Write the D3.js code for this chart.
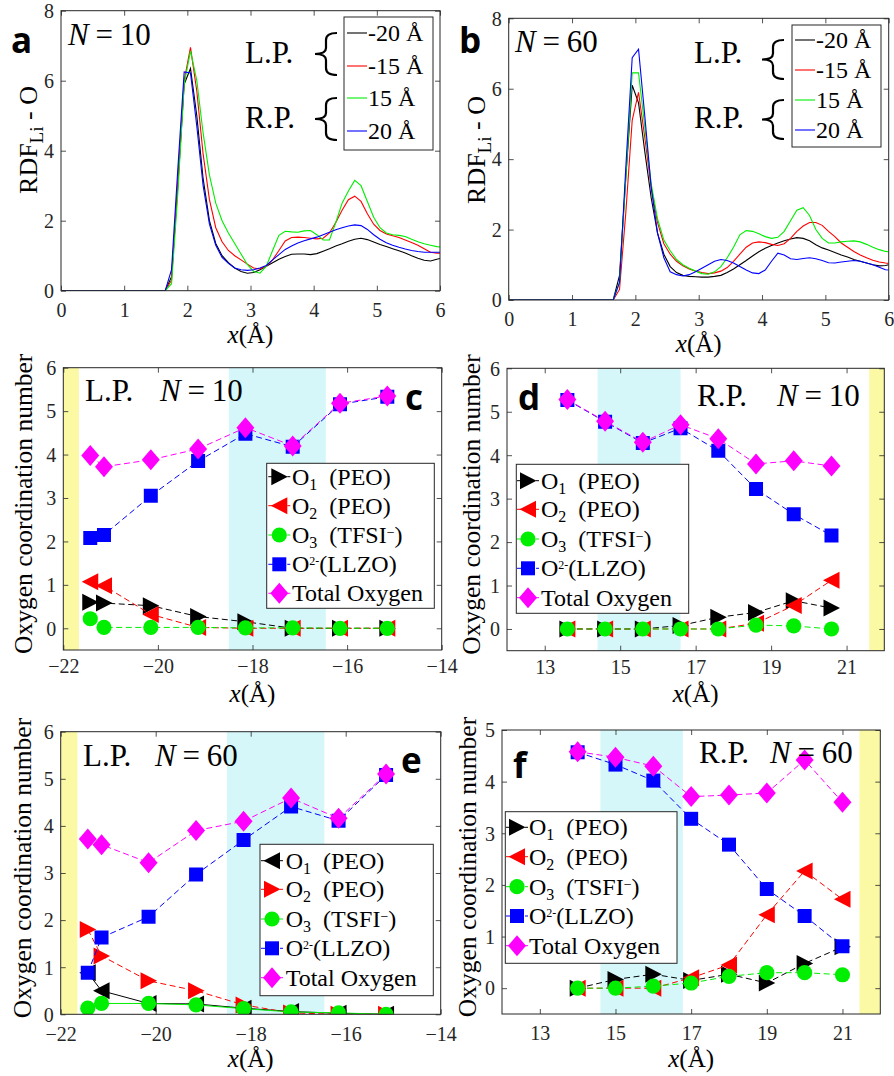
<!DOCTYPE html>
<html><head><meta charset="utf-8">
<script src="https://cdn.jsdelivr.net/npm/d3@7"></script>
<style>
body{margin:0;background:#fff}
svg{display:block}
svg text{font-family:"Liberation Serif","DejaVu Serif",serif;fill:#000}
svg .tick text{fill:#262626;font-family:"Liberation Serif","DejaVu Serif",serif}
svg text.lbl{font-family:"Open Sans","Liberation Sans",sans-serif;font-weight:bold}
</style>
</head><body>
<svg id="fig" width="894" height="1076" font-family="Liberation Serif"></svg>
<script>
// ---------- RDF Li-O (panels a, b) ----------
const rdfX = [0,1.65,1.75,1.85,1.95,2.05,2.15,2.25,2.35,2.45,2.55,2.65,2.75,2.85,2.95,3.05,3.15,3.25,3.35,3.45,3.55,3.65,3.75,3.85,3.95,4.05,4.15,4.25,4.35,4.45,4.55,4.65,4.75,4.85,4.95,5.05,5.15,5.25,5.35,5.45,5.55,5.65,5.75,5.85,5.95,6.0];
const rdfLegend = ["-20 Å","-15 Å","15 Å","20 Å"];
const rdfColors = ["#000000","#ff0000","#00ee00","#0000ff"];

const rdfN10m20 = [0,0,0.4,3.0,5.9,6.35,5.0,3.2,2.0,1.35,1.0,0.8,0.65,0.55,0.5,0.52,0.6,0.7,0.8,0.9,0.98,1.04,1.05,1.05,1.03,1.06,1.13,1.2,1.28,1.34,1.41,1.47,1.5,1.46,1.39,1.32,1.26,1.2,1.14,1.08,1.0,0.93,0.87,0.85,0.9,0.92];
const rdfN10m15 = [0,0,0.3,3.2,6.0,6.95,5.7,3.9,2.6,1.8,1.4,1.15,1.0,0.88,0.76,0.65,0.62,0.7,0.88,1.15,1.42,1.52,1.53,1.52,1.5,1.48,1.5,1.65,1.95,2.3,2.6,2.7,2.55,2.2,1.9,1.72,1.62,1.57,1.52,1.45,1.38,1.3,1.2,1.1,1.07,1.07];
const rdfN10p15 = [0,0,0.2,2.8,5.9,6.85,6.0,4.5,3.3,2.5,2.0,1.65,1.35,1.05,0.75,0.55,0.5,0.7,1.15,1.58,1.7,1.68,1.67,1.71,1.72,1.6,1.45,1.45,1.95,2.5,2.85,3.15,3.0,2.55,2.1,1.8,1.65,1.6,1.58,1.55,1.47,1.4,1.34,1.3,1.26,1.25];
const rdfN10p20 = [0,0,0.6,3.5,6.25,6.22,4.7,3.0,1.9,1.3,0.95,0.78,0.65,0.6,0.58,0.6,0.65,0.72,0.88,1.03,1.18,1.28,1.36,1.43,1.48,1.53,1.6,1.67,1.74,1.8,1.85,1.88,1.86,1.75,1.6,1.47,1.37,1.3,1.24,1.19,1.15,1.12,1.1,1.1,1.1,1.1];

const rdfN60m20 = [0,0,0.7,3.5,6.1,5.6,4.2,2.9,1.9,1.3,0.95,0.78,0.7,0.67,0.66,0.65,0.65,0.67,0.7,0.78,0.88,1.0,1.12,1.25,1.37,1.47,1.55,1.62,1.68,1.73,1.77,1.75,1.68,1.57,1.48,1.42,1.35,1.28,1.22,1.15,1.1,1.05,1.0,0.97,0.98,1.0];
const rdfN60m15 = [0,0,0.3,2.5,5.1,5.9,4.6,3.2,2.2,1.6,1.3,1.1,0.97,0.88,0.82,0.78,0.75,0.77,0.82,0.92,1.1,1.3,1.5,1.62,1.65,1.63,1.58,1.55,1.6,1.75,1.95,2.1,2.2,2.2,2.12,1.95,1.8,1.62,1.5,1.38,1.28,1.2,1.13,1.08,1.05,1.04];
const rdfN60p15 = [0,0,0.5,3.5,6.45,6.45,4.9,3.3,2.3,1.7,1.4,1.15,1.0,0.9,0.82,0.75,0.73,0.8,0.95,1.2,1.5,1.85,1.97,1.95,1.88,1.8,1.75,1.78,1.95,2.25,2.55,2.62,2.4,2.0,1.75,1.62,1.62,1.65,1.67,1.68,1.65,1.58,1.5,1.43,1.38,1.37];
const rdfN60p20 = [0,0,0.5,3.8,6.88,7.12,5.2,3.2,1.9,1.2,0.8,0.72,0.68,0.72,0.8,0.9,1.0,1.1,1.15,1.12,1.05,0.95,0.85,0.77,0.75,0.85,1.1,1.33,1.28,1.17,1.15,1.18,1.2,1.17,1.12,1.06,1.05,1.08,1.1,1.12,1.1,1.05,1.0,0.93,0.86,0.85];

const rdfTicksX = [0,1,2,3,4,5,6];
const rdfTicksY = [0,2,4,6,8];

// ---------- Oxygen coordination number (panels c-f) ----------
const posLP = [-21.43,-21.14,-20.15,-19.15,-18.15,-17.15,-16.15,-15.15];
const posRP10 = [13.6,14.6,15.6,16.6,17.6,18.6,19.6,20.6];
const posRP60 = [14,15,16,17,18,19,20,21];

const cO1 = [0.6,0.58,0.52,0.27,0.15,0,0,0];
const cO2 = [1.07,0.98,0.32,0.02,0,0,0,0];
const cO3 = [0.22,0.02,0.02,0.02,0.01,0.01,0,0];
const cLLZO = [2.08,2.15,3.05,3.85,4.48,4.18,5.16,5.33];
const cTotal = [3.98,3.72,3.88,4.13,4.62,4.2,5.18,5.35];

const dO1 = [0,0,0,0.08,0.27,0.38,0.65,0.48];
const dO2 = [0,0,0,0,0,0.13,0.54,1.12];
const dO3 = [0,0,0,0,0,0.09,0.07,0];
const dLLZO = [5.27,4.77,4.28,4.62,4.1,3.22,2.64,2.15];
const dTotal = [5.28,4.78,4.3,4.7,4.38,3.8,3.87,3.75];

const eO1 = [0.88,0.5,0.23,0.22,0.13,0.06,0.02,0];
const eO2 = [1.8,1.24,0.71,0.5,0.2,0.03,0,0];
const eO3 = [0.13,0.23,0.23,0.2,0.12,0.05,0.03,0];
const eLLZO = [0.88,1.63,2.07,2.97,3.7,4.41,4.11,5.08];
const eTotal = [3.72,3.6,3.22,3.9,4.1,4.59,4.16,5.1];

const fO1 = [0,0.17,0.27,0.15,0.27,0.1,0.48,0.8];
const fO2 = [0,0,0,0.2,0.45,1.42,2.27,1.72];
const fO3 = [0,0,0.04,0.1,0.23,0.3,0.3,0.26];
const fLLZO = [4.57,4.33,4.02,3.28,2.78,1.92,1.4,0.81];
const fTotal = [4.58,4.47,4.3,3.71,3.74,3.78,4.42,3.6];

const ticksLP = [-22,-20,-18,-16,-14];
const ticksRP = [13,15,17,19,21];
const ticksCN6 = [0,1,2,3,4,5,6];
const ticksCN5 = [0,1,2,3,4,5];

const COL = {k:"#000000", r:"#ff0000", g:"#00ee00", b:"#0000ff", m:"#ff00ff"};
const YELLOW = "#fbf9a4", CYAN = "#d5f7f9", AX = "#262626";
const SERIF = '"Liberation Serif","DejaVu Serif",serif';

const svg = d3.select("#fig");
let clipId = 0;

// ---------- helpers ----------
function txt(sel, x, y, size) {
  return sel.append("text").attr("x", x).attr("y", y)
    .style("font-family", SERIF).style("font-size", size + "px");
}

function makeAxes(p) {
  const x = d3.scaleLinear().domain(p.xd).range([p.L, p.R]);
  const y = d3.scaleLinear().domain(p.yd).range([p.B, p.T]);
  const g = svg.append("g");
  const id = "clip" + (clipId++);
  svg.append("clipPath").attr("id", id).append("rect")
    .attr("x", p.L).attr("y", p.T).attr("width", p.R - p.L).attr("height", p.B - p.T);
  const plot = g.append("g").attr("clip-path", `url(#${id})`);
  return {x, y, g, plot};
}

function drawFrame(ax, p) {
  const {x, y, g} = ax;
  const fs = 20;
  const bot = g.append("g").attr("transform", `translate(0,${p.B})`)
    .call(d3.axisBottom(x).tickValues(p.xt).tickSize(-5).tickFormat(d3.format("d")));
  bot.selectAll("text").attr("y", p.xlab).attr("dy", null)
    .style("font-size", fs + "px").style("font-family", SERIF);
  g.append("g").attr("transform", `translate(0,${p.T})`)
    .call(d3.axisTop(x).tickValues(p.xt).tickSize(-5).tickFormat(""));
  const left = g.append("g").attr("transform", `translate(${p.L},0)`)
    .call(d3.axisLeft(y).tickValues(p.yt).tickSize(-5).tickFormat(d3.format("d")));
  left.selectAll("text").attr("x", -7).attr("dy", "0.34em")
    .style("font-size", fs + "px").style("font-family", SERIF);
  g.append("g").attr("transform", `translate(${p.R},0)`)
    .call(d3.axisRight(y).tickValues(p.yt).tickSize(-5).tickFormat(""));
  g.selectAll(".domain").remove();
  g.selectAll(".tick line").attr("stroke", AX).attr("stroke-width", 0.8);
  g.append("rect").attr("x", p.L).attr("y", p.T).attr("width", p.R - p.L).attr("height", p.B - p.T)
    .attr("fill", "none").attr("stroke", AX).attr("stroke-width", 1);
  // x-axis title  x(Å)
  const xt = txt(g, (p.L + p.R) / 2, p.xtitle, 25).attr("text-anchor", "middle");
  xt.append("tspan").style("font-style", "italic").text("x");
  xt.append("tspan").text("(Å)");
}

function brace(g, x, yTop, yBot) {
  const m = (yTop + yBot) / 2, w = 22, cx = x + w * 0.5;
  const d = `M${x + w},${yTop} Q${cx},${yTop} ${cx},${yTop + 7} L${cx},${m - 6} Q${cx},${m} ${x},${m}` +
            ` Q${cx},${m} ${cx},${m + 6} L${cx},${yBot - 7} Q${cx},${yBot} ${x + w},${yBot}`;
  g.append("path").attr("d", d).attr("fill", "none").attr("stroke", "#000").attr("stroke-width", 2.2);
}

function nEquals(g, x, y, val, fs) {
  const t = txt(g, x, y, fs);
  t.append("tspan").style("font-style", "italic").text("N");
  t.append("tspan").attr("dx", fs * 0.22).text("=");
  t.append("tspan").attr("dx", fs * 0.22).text(val);
}

function rdfPanel(p, series, nval) {
  const ax = makeAxes(p);
  const line = d3.line().x((d, i) => ax.x(rdfX[i])).y(d => ax.y(d));
  series.forEach((s, i) => {
    ax.plot.append("path").datum(s).attr("d", line).attr("fill", "none")
      .attr("stroke", rdfColors[i]).attr("stroke-width", 1.1);
  });
  drawFrame(ax, p);
  const g = ax.g;
  // legend
  const lg = p.leg;
  g.append("rect").attr("x", lg.x0).attr("y", lg.y0).attr("width", lg.x1 - lg.x0).attr("height", lg.y1 - lg.y0)
    .attr("fill", "#fff").attr("stroke", AX).attr("stroke-width", 1);
  rdfLegend.forEach((name, i) => {
    const yy = lg.rows[i];
    g.append("line").attr("x1", lg.lx0).attr("x2", lg.lx1).attr("y1", yy).attr("y2", yy)
      .attr("stroke", rdfColors[i]).attr("stroke-width", 1.1);
    txt(g, lg.lx1 + 1, yy + 8, 24).text(name);
  });
  txt(g, p.lpx, 63, 31).text("L.P.");
  txt(g, p.lpx, 128, 31).text("R.P.");
  brace(g, p.brx, lg.rows[0], lg.rows[1] + 9);
  brace(g, p.brx, lg.rows[2] + 0, lg.rows[3] + 9);
  nEquals(g, p.nx, p.ny, nval, 31);
  g.append("text").attr("class", "lbl").attr("x", p.lx).attr("y", p.ly).style("font-size", "35px").text(p.letter);
  // y title RDF_{Li} - O
  const yt = g.append("text").attr("transform", `translate(${p.ytx},${p.yty}) rotate(-90)`)
    .attr("text-anchor", "middle").style("font-family", SERIF).style("font-size", "26px");
  yt.append("tspan").text("RDF");
  yt.append("tspan").attr("dy", 6).style("font-size", "19px").text("Li");
  yt.append("tspan").attr("dy", -6).text(" - O");
}

function markerPath(shape) {
  switch (shape) {
    case "tr": return "M-8,-8.5L8.5,0L-8,8.5Z";
    case "tl": return "M8,-8.5L-8.5,0L8,8.5Z";
    case "sq": return "M-7,-7L7,-7L7,7L-7,7Z";
    case "di": return "M0,-10.5L9,0L0,10.5L-9,0Z";
    default: return d3.symbol(d3.symbolCircle, Math.PI * 7.6 * 7.6)();
  }
}

function cnPanel(p, xs, series) {
  const ax = makeAxes(p);
  p.bands.forEach(b => {
    ax.plot.append("rect").attr("x", ax.x(b[0])).attr("width", ax.x(b[1]) - ax.x(b[0]))
      .attr("y", p.T).attr("height", p.B - p.T).attr("fill", b[2]);
  });
  const line = d3.line().x((d, i) => ax.x(xs[i])).y(d => ax.y(d));
  series.forEach(s => {
    ax.plot.append("path").datum(s.v).attr("d", line).attr("fill", "none").attr("stroke", s.c)
      .attr("stroke-width", 1).attr("stroke-dasharray", s.solid ? null : "6,3.5");
    ax.plot.selectAll(null).data(s.v).join("path")
      .attr("transform", (d, i) => `translate(${ax.x(xs[i])},${ax.y(d)})`)
      .attr("d", markerPath(s.m)).attr("fill", s.c);
  });
  drawFrame(ax, p);
  const g = ax.g, lg = p.leg;
  g.append("rect").attr("x", lg.x0).attr("y", lg.y0).attr("width", lg.x1 - lg.x0).attr("height", lg.y1 - lg.y0)
    .attr("fill", "#fff").attr("stroke", AX).attr("stroke-width", 1);
  series.forEach((s, i) => {
    const yy = lg.rows[i];
    g.append("line").attr("x1", lg.mx - 11).attr("x2", lg.mx + 11).attr("y1", yy).attr("y2", yy)
      .attr("stroke", s.c).attr("stroke-width", 1).attr("stroke-dasharray", s.solid ? null : "6,3.5");
    g.append("path").attr("transform", `translate(${lg.mx},${yy})`).attr("d", markerPath(s.m)).attr("fill", s.c);
    s.label(txt(g, lg.tx, yy + 8, 24));
  });
  txt(g, p.tpx, p.tpy, 31).text(p.side);
  nEquals(g, p.nx, p.tpy, p.nval, 31);
  g.append("text").attr("class", "lbl").attr("x", p.lx).attr("y", p.ly).style("font-size", "35px").text(p.letter);
  g.append("text").attr("transform", `translate(${p.ytx},${(p.T + p.B) / 2 - 5}) rotate(-90)`)
    .attr("text-anchor", "middle").style("font-family", SERIF).style("font-size", "25.5px")
    .text("Oxygen coordination number");
}

// legend label builders
const lblO = (n, tail) => t => {
  t.append("tspan").text("O");
  t.append("tspan").attr("dy", 5).style("font-size", "16px").text(n);
  t.append("tspan").attr("dy", -5).text("\u2002" + tail);
};
const lblO3 = name => t => {
  t.append("tspan").text("O");
  t.append("tspan").attr("dy", 5).style("font-size", "16px").text("3");
  t.append("tspan").attr("dy", -5).text("\u2002(" + name);
  t.append("tspan").attr("dy", -6).style("font-size", "14px").text("\u2212");
  t.append("tspan").attr("dy", 6).text(")");
};
const lblLLZO = t => {
  t.append("tspan").text("O");
  t.append("tspan").attr("dy", -7).style("font-size", "12px").text("2-");
  t.append("tspan").attr("dy", 7).text("(LLZO)");
};
const lblTot = t => t.text("Total Oxygen");

// ---------- panel a ----------
rdfPanel({L:61, R:440, T:10.7, B:290.7, xd:[0,6], yd:[0,8], xt:rdfTicksX, yt:rdfTicksY,
  xlab:26, xtitle:343,
  leg:{x0:344, x1:433, y0:17, y1:150, rows:[33,66,98,131], lx0:347, lx1:367},
  lpx:245, brx:315, nx:68, ny:45, lx:11, ly:53, letter:"a", ytx:37, yty:140},
  [rdfN10m20, rdfN10m15, rdfN10p15, rdfN10p20], "10");

// ---------- panel b ----------
rdfPanel({L:508.7, R:888.7, T:18.3, B:300, xd:[0,6], yd:[0,8], xt:rdfTicksX, yt:rdfTicksY,
  xlab:26, xtitle:352,
  leg:{x0:792, x1:881, y0:25, y1:147, rows:[40,70,100,130], lx0:795, lx1:815},
  lpx:694, brx:762, nx:515, ny:52, lx:459, ly:53, letter:"b", ytx:485, yty:150},
  [rdfN60m20, rdfN60m15, rdfN60p15, rdfN60p20], "60");

// ---------- panel c ----------
cnPanel({L:63.3, R:441.7, T:367.7, B:650, xd:[-22,-14], yd:[-0.5,6], xt:ticksLP, yt:ticksCN6,
  xlab:23, xtitle:702,
  bands:[[-22,-21.67,YELLOW],[-18.5,-16.45,CYAN]],
  leg:{x0:266.7, x1:434.3, y0:463.3, y1:608.3, rows:[476.7,505.7,535,564.3,593.3], mx:279.3, tx:292},
  side:"L.P.", tpx:85, tpy:401, nx:160, nval:"10", lx:405, ly:410, letter:"c", ytx:32},
  posLP, [
    {v:cO1, c:COL.k, m:"tr", label:lblO("1","(PEO)")},
    {v:cO2, c:COL.r, m:"tl", label:lblO("2","(PEO)")},
    {v:cO3, c:COL.g, m:"ci", label:lblO3("TFSI")},
    {v:cLLZO, c:COL.b, m:"sq", label:lblLLZO},
    {v:cTotal, c:COL.m, m:"di", label:lblTot}]);

// ---------- panel d ----------
cnPanel({L:507, R:884.3, T:368.3, B:650.7, xd:[12,22], yd:[-0.5,6], xt:ticksRP, yt:ticksCN6,
  xlab:23, xtitle:702,
  bands:[[14.4,16.6,CYAN],[21.6,22,YELLOW]],
  leg:{x0:516.3, x1:688.7, y0:464.3, y1:613.3, rows:[480.7,509.3,539,568.3,597.7], mx:528, tx:541},
  side:"R.P.", tpx:697, tpy:406, nx:777, nval:"10", lx:518, ly:410, letter:"d", ytx:480},
  posRP10, [
    {v:dO1, c:COL.k, m:"tr", label:lblO("1","(PEO)")},
    {v:dO2, c:COL.r, m:"tl", label:lblO("2","(PEO)")},
    {v:dO3, c:COL.g, m:"ci", label:lblO3("TFSI")},
    {v:dLLZO, c:COL.b, m:"sq", label:lblLLZO},
    {v:dTotal, c:COL.m, m:"di", label:lblTot}]);

// ---------- panel e ----------
cnPanel({L:60.7, R:440.7, T:731.7, B:1014.3, xd:[-22,-14], yd:[0,6], xt:ticksLP, yt:ticksCN6,
  xlab:27, xtitle:1067,
  bands:[[-22,-21.65,YELLOW],[-18.5,-16.45,CYAN]],
  leg:{x0:260, x1:433.3, y0:844.3, y1:995.7, rows:[860.7,889.3,919,948.3,977.7], mx:272, tx:285.7},
  side:"L.P.", tpx:83, tpy:766, nx:155, nval:"60", lx:401, ly:773, letter:"e", ytx:31},
  posLP, [
    {v:eO1, c:COL.k, m:"tl", solid:true, label:lblO("1","(PEO)")},
    {v:eO2, c:COL.r, m:"tr", label:lblO("2","(PEO)")},
    {v:eO3, c:COL.g, m:"ci", solid:true, label:lblO3("TSFI")},
    {v:eLLZO, c:COL.b, m:"sq", label:lblLLZO},
    {v:eTotal, c:COL.m, m:"di", label:lblTot}]);

// ---------- panel f ----------
cnPanel({L:502, R:880.3, T:730, B:1014, xd:[12,22], yd:[-0.5,5], xt:ticksRP, yt:ticksCN5,
  xlab:26, xtitle:1067,
  bands:[[14.6,16.78,CYAN],[21.45,22,YELLOW]],
  leg:{x0:505.3, x1:677, y0:811.7, y1:963.3, rows:[827.3,856.7,886.7,916,945.7], mx:517, tx:529},
  side:"R.P.", tpx:699, tpy:763, nx:770, nval:"60", lx:513, ly:778, letter:"f", ytx:476},
  posRP60, [
    {v:fO1, c:COL.k, m:"tr", label:lblO("1","(PEO)")},
    {v:fO2, c:COL.r, m:"tl", label:lblO("2","(PEO)")},
    {v:fO3, c:COL.g, m:"ci", label:lblO3("TSFI")},
    {v:fLLZO, c:COL.b, m:"sq", label:lblLLZO},
    {v:fTotal, c:COL.m, m:"di", label:lblTot}]);
</script>
</body></html>
